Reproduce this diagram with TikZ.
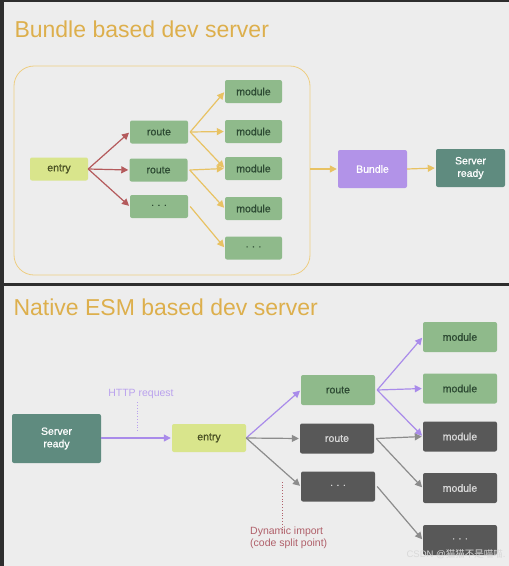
\documentclass[tikz,border=0pt]{standalone}
\usepackage{fontspec}
\setmainfont{Liberation Sans}
\newfontfamily\medfont[FakeBold=0.8]{Liberation Sans}
\newfontfamily\cjk{Noto Sans CJK SC}
\usetikzlibrary{arrows.meta}
\definecolor{slide}{HTML}{EDEDED}
\definecolor{edge}{HTML}{2E2E2E}
\definecolor{gold}{HTML}{DDAF4C}
\definecolor{goldarr}{HTML}{E8C263}
\definecolor{redarr}{HTML}{B45A5C}
\definecolor{grnfill}{HTML}{8FBA8B}
\definecolor{grntext}{HTML}{2D4A33}
\definecolor{entryfill}{HTML}{D9E58C}
\definecolor{entrytext}{HTML}{4A5124}
\definecolor{darkfill}{HTML}{585858}
\definecolor{purple}{HTML}{B293E8}
\definecolor{purparr}{HTML}{A98BEA}
\definecolor{teal}{HTML}{5F8B7F}
\definecolor{grayarr}{HTML}{8C8C8C}
\definecolor{dyncol}{HTML}{B0606A}
\begin{document}
\begin{tikzpicture}[x=1pt,y=-1pt,>={Triangle[length=7pt,width=7pt]},line join=round,
	box/.style={rounded corners=2pt,inner sep=0pt,minimum width=58pt,minimum height=23pt,font=\medfont\fontsize{10.5}{12.5}\selectfont},
	grn/.style={box,fill=grnfill,text=grntext},
	entrybox/.style={box,fill=entryfill,text=entrytext},
	darkbox/.style={box,fill=darkfill,text=white!85!black},
	bigbox/.style={box,minimum width=74pt,minimum height=30pt},
	title/.style={anchor=west,text=gold,font=\fontsize{23}{26}\selectfont},
	goldline/.style={->,goldarr,line width=1.2pt,shorten >=1pt},
	redline/.style={->,redarr,line width=1.2pt,shorten >=1pt},
	purpline/.style={->,purparr,line width=1.2pt,shorten >=1pt},
	grayline/.style={->,grayarr,line width=1.2pt,shorten >=1pt}]
	% slides
	\fill[edge] (0,0) rectangle (509,566);
	\fill[slide] (4,2) rectangle (509,283);
	\fill[slide] (4,286) rectangle (509,566);

	% ---- Bundle based dev server ----
	\node[title] (tA) at (11,29) {Bundle based dev server};
	\node[draw=goldarr!80,line width=0.8pt,rounded corners=20pt,minimum width=296pt,minimum height=209pt] (grp) at (162,170.5) {};
	\node[entrybox] (entA) at (59,169) {entry};
	\node[grn] (rA1) at (159,132) {route};
	\node[grn] (rA2) at (158.5,170) {route};
	\node[grn] (rA3) at (159,206.5) {· · ·};
	\node[grn,minimum width=57pt] (mA1) at (253.5,91.5) {module};
	\node[grn,minimum width=57pt] (mA2) at (253.5,131.5) {module};
	\node[grn,minimum width=57pt] (mA3) at (253.5,168.5) {module};
	\node[grn,minimum width=57pt] (mA4) at (253.5,208.5) {module};
	\node[grn,minimum width=57pt] (mA5) at (253.5,248) {· · ·};
	\node[box,fill=purple,text=white,minimum width=69pt,minimum height=38pt] (bundle) at (372.5,169) {Bundle};
	\node[box,fill=teal,text=white,minimum width=69pt,minimum height=38pt,align=center] (srvA) at (470.5,168) {Server\\ready};

	\foreach \r in {rA1,rA2,rA3} \draw[redline] (entA.east) -- (\r.west);
	\foreach \m in {mA1,mA2,mA3} \draw[goldline] ([xshift=2pt]rA1.east) -- (\m.west);
	\foreach \m in {mA3,mA4} \draw[goldline] ([xshift=2pt]rA2.east) -- (\m.west);
	\draw[goldline] ([xshift=2pt]rA3.east) -- (mA5.west);
	\draw[goldline] (grp.east |- bundle.west) -- (bundle.west);
	\draw[goldline] (bundle.east) -- (srvA.west);

	% ---- Native ESM based dev server ----
	\node[title] (tB) at (10,307) {Native ESM based dev server};
	\node[box,fill=teal,text=white,minimum width=89pt,minimum height=49pt,align=center] (srvB) at (56.5,438.5) {Server\\ready};
	\node[bigbox,fill=entryfill,text=entrytext,minimum height=28pt] (entB) at (209,438) {entry};
	\node[bigbox,fill=grnfill,text=grntext] (rB1) at (338,390) {route};
	\node[bigbox,fill=darkfill,text=white!85!black] (rB2) at (337,438.5) {route};
	\node[bigbox,fill=darkfill,text=white!85!black] (rB3) at (338,486.5) {· · ·};
	\node[bigbox,fill=grnfill,text=grntext] (mB1) at (460,337) {module};
	\node[bigbox,fill=grnfill,text=grntext] (mB2) at (460,388.5) {module};
	\node[bigbox,fill=darkfill,text=white!85!black] (mB3) at (460,436.5) {module};
	\node[bigbox,fill=darkfill,text=white!85!black] (mB4) at (460,488) {module};
	\node[bigbox,fill=darkfill,text=white!85!black] (mB5) at (460,540) {· · ·};

	\node[text=purparr!80,font=\fontsize{10.5}{12}\selectfont] (http) at (141,394) {HTTP request};
	\coordinate (httpEnd) at (137,433);
	\draw[purparr!80,dotted,line width=0.8pt] (httpEnd |- http.south) -- (httpEnd);
	\draw[purpline] (srvB.east |- entB.west) -- (entB.west);

	\node[anchor=north west,align=left,text=dyncol,font=\fontsize{10.5}{12}\selectfont,inner sep=0pt] (dyn) at (250,527) {Dynamic import\\(code split point)};
	\coordinate (dynEnd) at (282,480);
	\draw[dyncol,dotted,line width=0.8pt] ([yshift=-6pt]dynEnd |- dyn.north) -- (dynEnd);

	\draw[purpline] (entB.east) -- (rB1.west);
	\draw[grayline] (entB.east) -- (rB2.west);
	\draw[grayline] (entB.east) -- (rB3.west);
	\foreach \m in {mB1,mB2,mB3} \draw[purpline] ([xshift=2pt]rB1.east) -- (\m.west);
	\foreach \m in {mB3,mB4} \draw[grayline] ([xshift=2pt]rB2.east) -- (\m.west);
	\draw[grayline] ([xshift=2pt]rB3.east) -- (mB5.west);

	\node[anchor=east,text=white!70!gray,font=\fontsize{9.5}{11}\selectfont] (wm) at (509,554) {CSDN @{\cjk 猫猫不是喵喵}.};
\end{tikzpicture}
\end{document}
